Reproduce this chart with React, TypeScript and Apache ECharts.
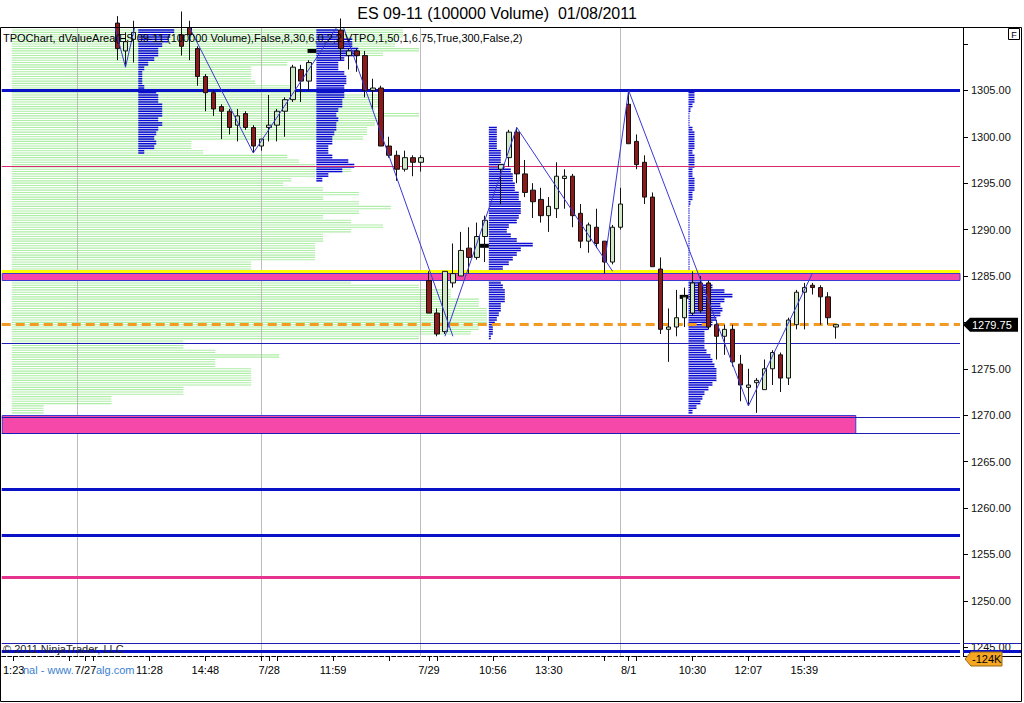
import React, { useEffect, useRef } from 'react';
import * as echarts from 'echarts';

const FONT = '"Liberation Sans", Arial, sans-serif';
const N_BARS = 120;
const Y_MIN = 1244.05;
const Y_MAX = 1311.72;
// 1280.00 is hidden behind the last-price tag in the reference
const Y_LABEL_VALUES = [1245, 1250, 1255, 1260, 1265, 1270, 1275, 1285, 1290, 1295, 1300, 1305];
const Y_TICK_VALUES = [1245, 1250, 1255, 1260, 1265, 1270, 1275, 1280, 1285, 1290, 1295, 1300, 1305, 1310];

const X_LABEL_INDEX = [1, 10, 18, 25, 33, 41, 53, 61, 68, 78, 86, 93, 100];
const X_LABEL_TEXT = ['1:23', '7/27', '11:28', '14:48', '7/28', '11:59', '7/29', '10:56', '13:30', '8/1', '10:30', '12:07', '15:39'];
const X_EXTRA_TICKS = [8, 11, 32, 34, 48, 54, 75, 79];
const SESSION_BREAKS = [9, 32, 52, 77];

// [bar index, open, close, low, high]
const CANDLES: number[][] = [
  [14, 1312.25, 1309.5, 1308.25, 1313], [15, 1309.25, 1310.25, 1307.5, 1311.25], [16, 1310.5, 1311.25, 1308.0, 1312.5],
  [22, 1311.0, 1309.75, 1308.75, 1313.5], [23, 1311.75, 1311.0, 1308.25, 1312.5], [24, 1309.5, 1306.5, 1305.5, 1309.75],
  [25, 1306.5, 1304.75, 1302.75, 1306.75], [26, 1304.75, 1303.0, 1302.25, 1305.0], [27, 1303.25, 1302.75, 1299.75, 1303.5],
  [28, 1302.75, 1301.0, 1300.25, 1303.0], [29, 1301.25, 1302.25, 1299.5, 1303.0], [30, 1302.5, 1301.0, 1300.75, 1302.75],
  [31, 1301.0, 1299.0, 1298.25, 1301.25], [32, 1299.0, 1299.75, 1298.5, 1299.75], [33, 1301.0, 1301.25, 1299.5, 1304.5],
  [34, 1301.25, 1302.75, 1299.5, 1303.0], [35, 1302.75, 1304.0, 1300.0, 1304.25], [36, 1304.0, 1307.5, 1303.75, 1307.75],
  [37, 1307.25, 1306.0, 1303.75, 1307.75], [38, 1306.0, 1308.0, 1305.0, 1308.25],
  [42, 1311.5, 1309.5, 1308.25, 1312.75], [43, 1308.75, 1309.25, 1307.25, 1309.5], [44, 1309.25, 1308.75, 1307.0, 1309.5],
  [45, 1308.75, 1305.0, 1304.25, 1309.25], [46, 1305.0, 1305.25, 1303.0, 1306.25], [47, 1305.25, 1299.0, 1299.0, 1305.5],
  [48, 1299.0, 1298.0, 1297.75, 1300.0], [49, 1298.0, 1296.5, 1295.25, 1298.5], [50, 1296.5, 1297.75, 1296.25, 1298.5],
  [51, 1297.75, 1297.25, 1295.75, 1298.0], [52, 1297.25, 1297.75, 1296.25, 1298.0],
  [53, 1284.5, 1281.0, 1281.0, 1285.5], [54, 1281.0, 1278.75, 1278.5, 1281.5], [55, 1279.0, 1285.5, 1278.75, 1285.5],
  [56, 1284.25, 1285.25, 1283.75, 1288.5], [57, 1285.0, 1287.75, 1285.0, 1289.75], [58, 1288.0, 1287.0, 1285.25, 1290.25],
  [59, 1287.0, 1289.25, 1286.75, 1290.75], [60, 1289.25, 1291.0, 1286.5, 1291.5],
  [62, 1296.5, 1297.0, 1292.75, 1297.0], [63, 1297.75, 1300.5, 1296.75, 1300.75], [64, 1300.5, 1296.0, 1295.0, 1301.0],
  [65, 1296.0, 1294.0, 1293.5, 1297.5], [66, 1294.25, 1293.0, 1291.25, 1295.0], [67, 1293.25, 1291.5, 1290.75, 1294.5],
  [68, 1291.5, 1292.5, 1289.75, 1293.5], [69, 1292.25, 1295.75, 1291.25, 1297.25], [70, 1295.5, 1295.75, 1292.25, 1296.5],
  [71, 1295.75, 1291.5, 1290.25, 1296.0], [72, 1291.75, 1288.75, 1288.0, 1292.75], [73, 1288.75, 1290.5, 1287.5, 1290.75],
  [74, 1290.25, 1288.5, 1288.0, 1292.25], [75, 1288.75, 1286.5, 1285.25, 1288.75], [76, 1286.5, 1290.25, 1286.25, 1290.5],
  [77, 1290.25, 1292.75, 1290.0, 1294.5], [78, 1303.5, 1299.25, 1299.25, 1305.0], [79, 1299.5, 1297.0, 1296.5, 1300.25],
  [80, 1297.25, 1293.5, 1292.75, 1298.0], [81, 1293.5, 1286.0, 1286.0, 1294.0], [82, 1285.75, 1279.25, 1278.75, 1287.0],
  [83, 1279.25, 1279.5, 1275.75, 1281.5], [84, 1279.5, 1280.5, 1278.5, 1283.5], [85, 1280.5, 1282.75, 1279.5, 1283.75],
  [86, 1281.0, 1284.25, 1280.75, 1285.5], [87, 1284.25, 1281.25, 1281.0, 1285.0], [88, 1284.25, 1279.5, 1279.25, 1284.5],
  [89, 1279.75, 1278.5, 1276.0, 1280.25], [90, 1278.5, 1279.25, 1276.5, 1279.75], [91, 1279.25, 1275.75, 1275.25, 1279.75],
  [92, 1275.5, 1273.25, 1271.5, 1276.5], [93, 1273.0, 1273.25, 1271.0, 1275.0], [94, 1273.5, 1273.75, 1270.25, 1274.0],
  [95, 1272.75, 1275.0, 1272.75, 1276.0], [96, 1275.0, 1276.75, 1273.25, 1277.0], [97, 1276.5, 1274.0, 1272.5, 1276.75],
  [98, 1274.0, 1280.25, 1273.25, 1280.5], [99, 1279.75, 1283.25, 1279.25, 1283.5], [100, 1283.25, 1283.75, 1279.25, 1284.25],
  [101, 1284.0, 1283.75, 1283.0, 1284.25], [102, 1283.75, 1282.75, 1279.75, 1284.0], [103, 1282.75, 1280.5, 1279.75, 1283.25],
  [104, 1279.5, 1279.75, 1278.25, 1279.75],
];

// zigzag legs: [bar index, price]
const ZIGZAG_A = [[13, 1314], [15, 1307.5], [17, 1315], [20, 1312.5], [22, 1313.5], [31, 1298.25], [42, 1312.5], [56, 1278.5]];
const ZIGZAG_B = [[55, 1278.5], [64, 1301.0], [76, 1285.5]];
const ZIGZAG_C = [[75, 1286.5], [78, 1305.0], [93, 1271.0], [101, 1285.25]];

// horizontal levels
const THICK_BLUE_LEVELS = [1305, 1262, 1257, 1244.55];
const THIN_BLUE_LEVELS = [1277.75, 1269.75, 1268.0, 1245.4];
const THICK_MAGENTA_LEVELS = [1252.5];
const CRIMSON_LEVELS = [1296.75];
const YELLOW_LEVELS = [1285.5];
const LAST_PRICE = 1279.75;
// [top, bottom, last bar (-1 = full width)]
const PINK_ZONES = [[1285.25, 1284.5, -1], [1270.0, 1268.0, 106]];
const VOLUME_TAG = '-124K';

// volume profiles: rows every 0.5 point from the top price down; lengths in bar widths
const GREEN_TOP = 1311.5;
const GREEN_VOL = [49, 49, 48, 48, 51, 46.5, 40, 34.5, 30, 30, 30, 30.5, 35, 40, 46.5, 46.5, 46.5, 45.5, 51, 46.5,
  45.5, 44.5, 44.5, 44, 22.5, 22.5, 24, 34.5, 36, 38, 42.5, 38, 35, 34, 39, 43.5, 39, 43.5, 47.5, 43.5,
  39, 42.5, 46.5, 42.5, 39, 39, 38, 38, 38, 38, 30, 30, 40, 42.5, 42.5, 51, 55, 55, 58.5, 58.5,
  59.5, 59.5, 59.5, 59.5, 58.5, 57.5, 51, 21.5, 21.5, 25.5, 33.5, 25.5, 25.5, 30, 30, 30, 30, 21.5, 21.5, 12.5,
  12.5, 4, 4];
const B1_TOP = 1311.5;
const B1_VOL = [4.5, 4, 3.75, 3, 2.5, 2.5, 2, 1.25, 0.75, 0.5, 0.5, 0.5, 0.75, 2.25, 2.5, 2.5, 3, 3, 3, 2.5, 3, 2.5, 2.25, 2, 2.25, 2, 0.75];
const B2_TOP = 1311.5;
const B2_VOL = [2.75, 2.75, 4.5, 4.5, 5.25, 5.25, 3.5, 2.75, 2.75, 3.5, 3.75, 3.75, 3.5, 3.5, 3.5, 3.25, 3.25, 2.75, 2.5, 2.75,
  2.5, 2.5, 2.25, 2, 2, 1.5, 1.5, 2, 4, 4.75, 3.25, 1.5, 0.75];
const B3_TOP = 1301;
const B3_VOL = [1, 1, 1, 1, 1, 1.5, 1.5, 1.5, 2, 2.75, 3, 3, 3.25, 3.25, 3.75, 3.75, 4, 4, 4, 3.75, 3.5, 2.5, 2.25, 2.75, 3.5, 5.5,
  4, 3.5, 3, 2.5, 1.75, 1.5, 1.5, 1.5, 1.75, 2, 2, 2, 1.5, 1.5, 1.25, 1, 0.75, 0.5, 0.5, 0.25];
const B4_TOP = 1305;
const B4_VOL = [0.75, 0.75, 0.75, 0.5, 0.25, 0.1, 0.1, 0.1, 0.5, 0.75, 0.75, 0.75, 0.75, 0.5, 0.75, 0.75, 0.75, 0.5, 0.5, 0.75,
  0.75, 0.75, 0.5, 0.5, 0.25, 0.1, 0.1, 0.1, 0.1, 0.1, 0.1, 0.1, 0.1, 0.1, 0.1, 0.1, 0.1, 0.1, 0.1, 0.5,
  1, 1.5, 3, 4.5, 5.5, 4.5, 4, 4.25, 4, 3.5, 3, 2.5, 2, 2, 2, 2, 2.25, 2.75, 3, 3.25,
  3.5, 3.5, 3.5, 3, 2.5, 2, 1.75, 1.5, 1, 0.5];
const POC_PRICES = [1309.25, 1288.25, 1282.75];

// layout (bar offsets where each profile begins)
const GREEN_START = 0.75;
const B1_START = 16.6;
const B2_START = 38.9;
const B3_START = 60.5;
const B4_START = 85.5;
const POC_STARTS = [B2_START, B3_START, B4_START];

const CATS = Array.from({ length: N_BARS }, (_, i) => 'b' + i);
const LABEL_MAP = new Map<number, string>(X_LABEL_INDEX.map((i, k) => [i, X_LABEL_TEXT[k]]));
const TICK_SET = new Set<number>([...X_LABEL_INDEX, ...X_EXTRA_TICKS]);

const crisp = (v: number, w: number) => (w % 2 === 1 ? Math.round(v - 0.5) + 0.5 : Math.round(v));

function legData(leg: number[][]) {
  const arr: (number | null)[] = new Array(N_BARS).fill(null);
  leg.forEach(([i, p]) => { arr[i] = p; });
  return arr;
}

function makeProfile(id: string, top: number, vols: number[], start: number, color: string, lineH: number, z: number) {
  return {
    type: 'custom', id, z, silent: true, clip: true,
    encode: { x: 0, y: 1 },
    data: vols.map((v, k) => [0, top - k * 0.5, v]),
    renderItem: (params: any, api: any) => {
      const price = api.value(1) as number;
      const vol = api.value(2) as number;
      const bw = api.size([1, 0])[0];
      const p = api.coord([0, price]);
      const y2 = api.coord([0, price - 0.25])[1];
      const xs = p[0] + start * bw;
      const w = Math.max(vol * bw, 1);
      return {
        type: 'group', children: [
          { type: 'rect', shape: { x: xs, y: p[1] - lineH / 2, width: w, height: lineH }, style: { fill: color } },
          { type: 'rect', shape: { x: xs, y: y2 - lineH / 2, width: w, height: lineH }, style: { fill: color } },
        ],
      };
    },
  };
}

function makeLevels(id: string, levels: number[], color: string, width: number, z: number, dash?: number[]) {
  return {
    type: 'custom', id, z, silent: true, clip: true,
    encode: { x: 0, y: 1 },
    data: levels.map((v) => [0, v]),
    renderItem: (params: any, api: any) => {
      const cs = params.coordSys;
      const y = crisp(api.coord([0, api.value(1)])[1], width);
      return {
        type: 'line',
        shape: { x1: cs.x, y1: y, x2: cs.x + cs.width, y2: y },
        style: { stroke: color, lineWidth: width, lineDash: dash || null, fill: null },
      };
    },
  };
}

export default function App() {
  const ref = useRef<HTMLDivElement>(null);
  useEffect(() => {
    document.body.style.margin = '0';
    const chart = echarts.init(ref.current!, null, { renderer: 'svg' });

    const candleData = CATS.map((_, i) => {
      const c = CANDLES.find((r) => r[0] === i);
      return c ? [c[1], c[2], c[3], c[4]] : ['-', '-', '-', '-'];
    });

    const option: any = {
      animation: false,
      grid: { left: 0, right: 64, top: 28, bottom: 47 },
      xAxis: {
        type: 'category', data: CATS, boundaryGap: true,
        axisLine: { show: true, lineStyle: { color: '#000', width: 1, type: 'dashed' } },
        axisTick: { show: true, alignWithLabel: true, length: 5, lineStyle: { color: '#000' }, interval: (i: number) => TICK_SET.has(i) },
        axisLabel: {
          interval: (i: number) => LABEL_MAP.has(i),
          formatter: (_v: string, i: number) => LABEL_MAP.get(i) ?? '',
          color: '#000', fontSize: 11, fontFamily: FONT, margin: 8,
        },
        splitLine: { show: false },
      },
      yAxis: {
        type: 'value', position: 'right', offset: 3, min: Y_MIN, max: Y_MAX,
        axisLine: { show: true, lineStyle: { color: '#000' } },
        axisTick: { show: true, length: 5, customValues: Y_TICK_VALUES, lineStyle: { color: '#000' } },
        axisLabel: { customValues: Y_LABEL_VALUES, formatter: (v: number) => v.toFixed(2), color: '#111', fontSize: 11, fontFamily: FONT, margin: 8 },
        splitLine: { show: false },
      },
      series: [
        makeProfile('green', GREEN_TOP, GREEN_VOL, GREEN_START, '#aeeea6', 1.1, 1),
        {
          type: 'custom', id: 'sessions', z: 1, silent: true,
          encode: { x: 0, y: 1 },
          data: SESSION_BREAKS.map((i) => [i, Y_MIN]),
          renderItem: (params: any, api: any) => {
            const cs = params.coordSys;
            const x = crisp(api.coord([api.value(0), api.value(1)])[0], 1);
            return { type: 'line', shape: { x1: x, y1: cs.y, x2: x, y2: cs.y + cs.height }, style: { stroke: '#bcbcbc', lineWidth: 1 } };
          },
        },
        makeProfile('b1', B1_TOP, B1_VOL, B1_START, '#0a0ad0', 1.5, 2),
        makeProfile('b2', B2_TOP, B2_VOL, B2_START, '#0a0ad0', 1.5, 2),
        makeProfile('b3', B3_TOP, B3_VOL, B3_START, '#0a0ad0', 1.5, 2),
        makeProfile('b4', B4_TOP, B4_VOL, B4_START, '#0a0ad0', 1.5, 2),
        {
          type: 'custom', id: 'poc', z: 2, silent: true,
          encode: { x: 0, y: 1 },
          data: POC_PRICES.map((p, k) => [0, p, POC_STARTS[k]]),
          renderItem: (params: any, api: any) => {
            const bw = api.size([1, 0])[0];
            const pt = api.coord([0, api.value(1)]);
            const xs = pt[0] + (api.value(2) as number) * bw;
            return { type: 'rect', shape: { x: xs - 1.1 * bw, y: pt[1] - 2, width: 1.1 * bw, height: 4 }, style: { fill: '#000' } };
          },
        },
        {
          type: 'custom', id: 'zones', z: 3, silent: true, clip: true,
          encode: { x: 0, y: 1 },
          data: PINK_ZONES.map((zn) => [0, zn[0], zn[1], zn[2]]),
          renderItem: (params: any, api: any) => {
            const cs = params.coordSys;
            const bw = api.size([1, 0])[0];
            const yTop = crisp(api.coord([0, api.value(1)])[1], 1);
            const yBot = crisp(api.coord([0, api.value(2)])[1], 1);
            const endBar = api.value(3) as number;
            const xEnd = endBar < 0 ? cs.x + cs.width : api.coord([endBar, api.value(1)])[0] + 0.45 * bw;
            return {
              type: 'rect',
              shape: { x: cs.x + 0.5, y: yTop, width: xEnd - cs.x - 0.5, height: yBot - yTop },
              style: { fill: '#f548a8', stroke: '#3a3ad0', lineWidth: 1 },
            };
          },
        },
        makeLevels('crimson', CRIMSON_LEVELS, '#d8286e', 1, 4),
        makeLevels('thinBlue', THIN_BLUE_LEVELS, '#1e1eb4', 1, 4),
        makeLevels('thickBlue', THICK_BLUE_LEVELS, '#0a12c8', 3, 4),
        makeLevels('magenta', THICK_MAGENTA_LEVELS, '#e5338e', 3, 4),
        makeLevels('yellow', YELLOW_LEVELS, '#ffff00', 3, 4),
        makeLevels('last', [LAST_PRICE], '#f29a22', 3, 4, [9, 5]),
        {
          type: 'candlestick', id: 'price', data: candleData, barWidth: 5, z: 5, silent: true,
          itemStyle: { color: '#cfe9c6', color0: '#8c1a1a', borderColor: '#111', borderColor0: '#111', borderWidth: 1 },
        },
        ...[ZIGZAG_A, ZIGZAG_B, ZIGZAG_C].map((leg, k) => ({
          type: 'line', id: 'zz' + k, data: legData(leg), connectNulls: true, showSymbol: false, symbol: 'none', z: 6, silent: true,
          lineStyle: { color: '#3838d4', width: 1 },
        })),
      ],
    };
    chart.setOption(option);

    const yLast = chart.convertToPixel({ yAxisIndex: 0 }, LAST_PRICE) as number;
    const yThin = crisp(chart.convertToPixel({ yAxisIndex: 0 }, THIN_BLUE_LEVELS[3]) as number, 1);
    const yThick = crisp(chart.convertToPixel({ yAxisIndex: 0 }, THICK_BLUE_LEVELS[3]) as number, 3);
    const yBottom = chart.convertToPixel({ yAxisIndex: 0 }, Y_MIN) as number;
    const axX = 963;
    const yVol = 659;

    chart.setOption({
      graphic: [
        { type: 'text', id: 'title', x: 497, y: 13, z: 20, silent: true, style: { text: 'ES 09-11 (100000 Volume)  01/08/2011', fill: '#000', font: '16px ' + FONT, textAlign: 'center', textVerticalAlign: 'middle' } },
        { type: 'text', id: 'ind', x: 3, y: 38, z: 20, silent: true, style: { text: 'TPOChart, dValueArea(ES 09-11 (100000 Volume),False,8,30,6,0,2,2,VTPO,1,50,1,6.75,True,300,False,2)', fill: '#000', font: '11px ' + FONT, textAlign: 'left', textVerticalAlign: 'middle' } },
        { type: 'text', id: 'copy', x: 3, y: 649, z: 20, silent: true, style: { text: '© 2011 NinjaTrader, LLC', fill: '#222', font: '11px ' + FONT, textAlign: 'left', textVerticalAlign: 'middle' } },
        { type: 'text', id: 'web1', x: 23, y: 670, z: 20, silent: true, style: { text: 'nal - www.', fill: '#3d7fd0', font: '11px ' + FONT, textAlign: 'left', textVerticalAlign: 'middle' } },
        { type: 'text', id: 'web2', x: 96, y: 670, z: 20, silent: true, style: { text: 'alg.com', fill: '#3d7fd0', font: '11px ' + FONT, textAlign: 'left', textVerticalAlign: 'middle' } },
        { type: 'rect', id: 'frame', z: 30, silent: true, shape: { x: 0.5, y: 27.5, width: 1021, height: 674 }, style: { fill: 'none', stroke: '#000', lineWidth: 1 } },
        { type: 'rect', id: 'fbox', z: 30, silent: true, shape: { x: 1008.5, y: 28.5, width: 11, height: 11 }, style: { fill: '#fff', stroke: '#000', lineWidth: 1 } },
        { type: 'text', id: 'ftxt', x: 1014, y: 34.5, z: 31, silent: true, style: { text: 'F', fill: '#000', font: '9px ' + FONT, textAlign: 'center', textVerticalAlign: 'middle' } },
        { type: 'line', id: 'ext1', z: 10, silent: true, shape: { x1: axX, y1: yThin, x2: 1022, y2: yThin }, style: { stroke: '#1e1eb4', lineWidth: 1 } },
        { type: 'line', id: 'ext2', z: 10, silent: true, shape: { x1: axX, y1: yThick, x2: 1022, y2: yThick }, style: { stroke: '#0a12c8', lineWidth: 3 } },
        { type: 'line', id: 'ext3', z: 10, silent: true, shape: { x1: axX, y1: crisp(yBottom, 1), x2: 1022, y2: crisp(yBottom, 1) }, style: { stroke: '#000', lineWidth: 1 } },
        { type: 'polygon', id: 'tagL', z: 25, silent: true, shape: { points: [[axX, yLast], [axX + 7, yLast - 7], [1018, yLast - 7], [1018, yLast + 7], [axX + 7, yLast + 7]] }, style: { fill: '#000' } },
        { type: 'text', id: 'tagLt', x: axX + 9, y: yLast, z: 26, silent: true, style: { text: LAST_PRICE.toFixed(2), fill: '#fff', font: '11px ' + FONT, textAlign: 'left', textVerticalAlign: 'middle' } },
        { type: 'polygon', id: 'tagV', z: 25, silent: true, shape: { points: [[axX + 2, yVol], [axX + 8, yVol - 7], [1002, yVol - 7], [1002, yVol + 7], [axX + 8, yVol + 7]] }, style: { fill: '#f5a623', stroke: '#9a6a10', lineWidth: 1 } },
        { type: 'text', id: 'tagVt', x: axX + 9, y: yVol, z: 26, silent: true, style: { text: VOLUME_TAG, fill: '#000', font: '11px ' + FONT, textAlign: 'left', textVerticalAlign: 'middle' } },
      ],
    });

    return () => chart.dispose();
  }, []);
  return <div ref={ref} style={{ width: 1024, height: 703 }} />;
}
